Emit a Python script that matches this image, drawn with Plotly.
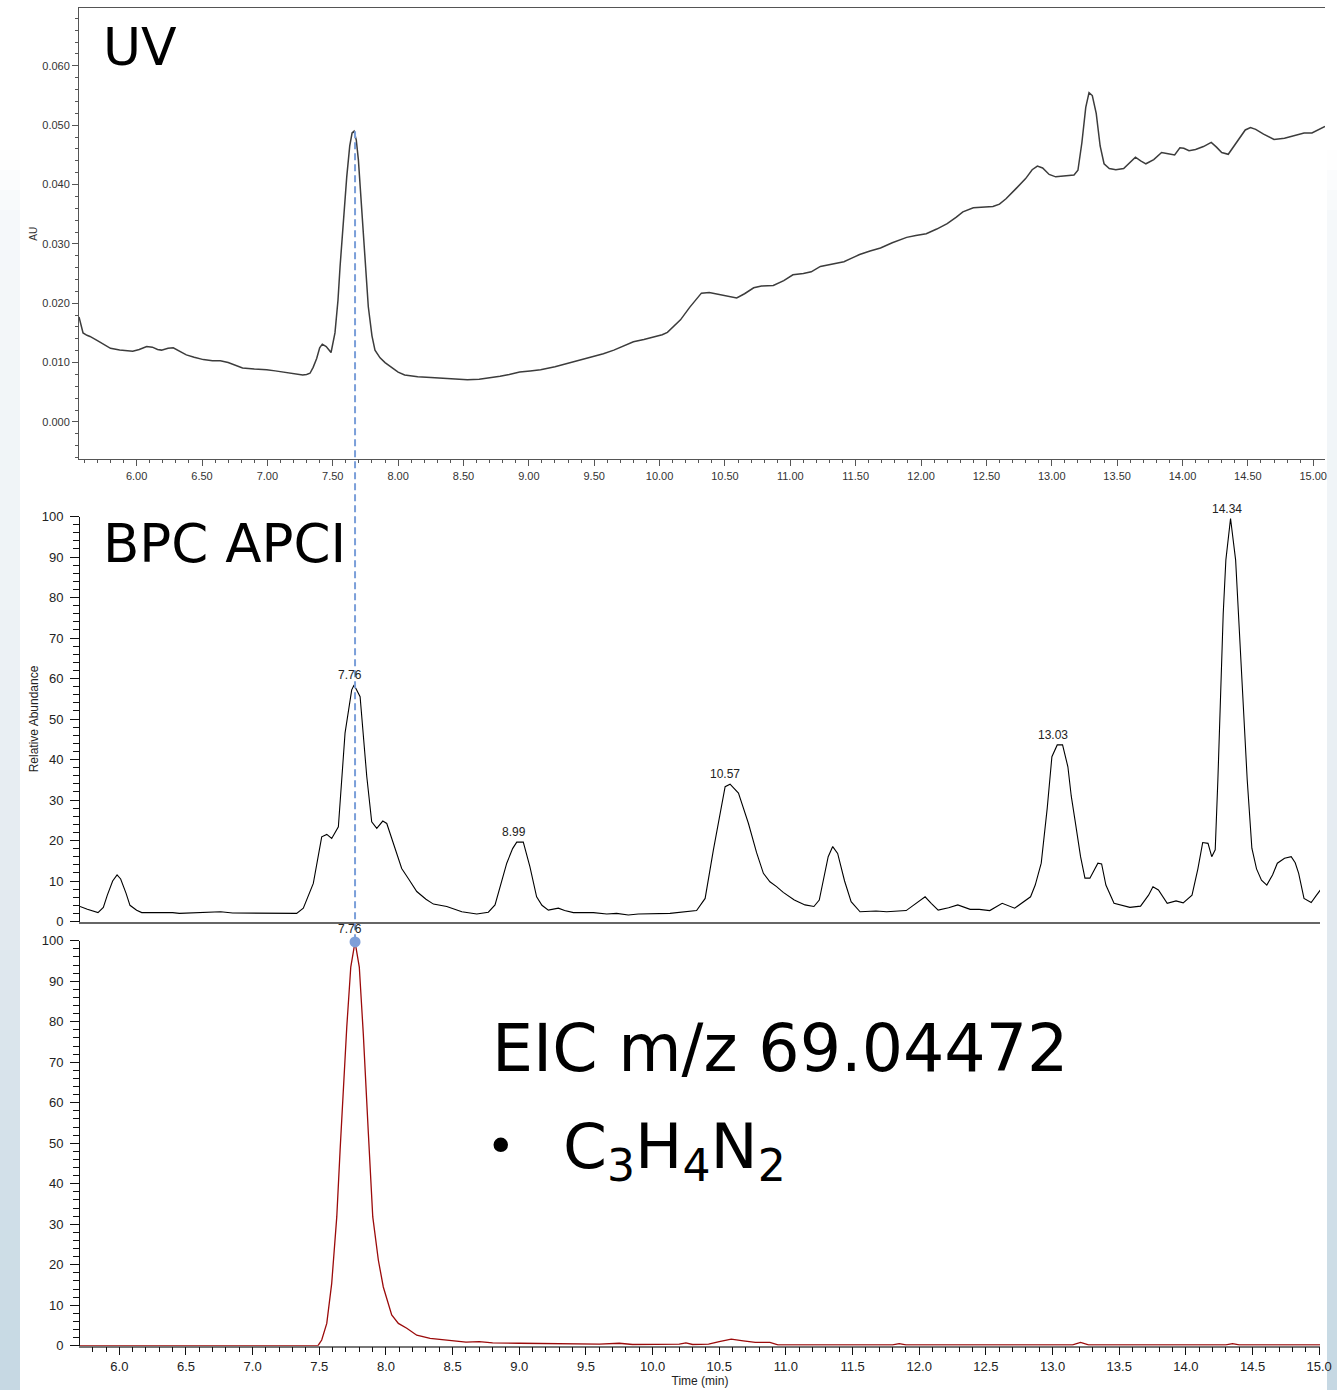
import plotly.graph_objects as go

# ---------------- data ----------------
uv_time = [5.559, 5.575, 5.59, 5.62, 5.643, 5.70, 5.75, 5.80, 5.87, 5.92, 5.97, 6.02, 6.077, 6.12, 6.16,
           6.19, 6.24, 6.28, 6.32, 6.38, 6.44, 6.51, 6.58, 6.64, 6.70, 6.74, 6.81, 6.90, 6.995, 7.06,
           7.12, 7.20, 7.27, 7.30, 7.326, 7.35, 7.377, 7.40, 7.42, 7.45, 7.487, 7.517, 7.54, 7.556, 7.58,
           7.607, 7.63, 7.648, 7.663, 7.68, 7.696, 7.715, 7.734, 7.752, 7.772, 7.80, 7.823, 7.862, 7.90,
           7.95, 8.00, 8.05, 8.10, 8.15, 8.25, 8.37, 8.45, 8.53, 8.62, 8.70, 8.78, 8.85, 8.93, 9.01,
           9.09, 9.20, 9.30, 9.40, 9.49, 9.57, 9.65, 9.72, 9.80, 9.88, 9.95, 10.02, 10.06, 10.10, 10.16,
           10.23, 10.28, 10.32, 10.38, 10.45, 10.52, 10.59, 10.65, 10.72, 10.78, 10.87, 10.95, 11.02, 11.10,
           11.16, 11.23, 11.32, 11.41, 11.47, 11.53, 11.61, 11.69, 11.78, 11.89, 11.96, 12.04, 12.12, 12.20,
           12.27, 12.32, 12.40, 12.48, 12.55, 12.60, 12.65, 12.73, 12.80, 12.85, 12.89, 12.93, 12.98, 13.03,
           13.10, 13.17, 13.20, 13.23, 13.26, 13.285, 13.31, 13.34, 13.37, 13.40, 13.44, 13.49, 13.55, 13.60,
           13.64, 13.68, 13.72, 13.78, 13.84, 13.89, 13.94, 13.98, 14.01, 14.05, 14.10, 14.16, 14.22, 14.26,
           14.30, 14.35, 14.39, 14.43, 14.48, 14.52, 14.56, 14.62, 14.70, 14.78, 14.85, 14.93, 14.99, 15.04,
           15.09]
uv_au = [0.0177, 0.0160, 0.0150, 0.0146, 0.0144, 0.0137, 0.0130, 0.0124, 0.0121, 0.0120, 0.0119, 0.0122,
         0.0127, 0.0126, 0.0122, 0.0121, 0.0124, 0.0125, 0.0120, 0.0113, 0.0109, 0.0105, 0.0103, 0.0103,
         0.0100, 0.0097, 0.0091, 0.0089, 0.0088, 0.0086, 0.0084, 0.0081, 0.0079, 0.0080, 0.0082, 0.0092,
         0.0107, 0.0125, 0.0131, 0.0127, 0.0117, 0.0150, 0.0205, 0.0262, 0.0340, 0.0413, 0.0465, 0.0487,
         0.0490, 0.0475, 0.0442, 0.0380, 0.0318, 0.0250, 0.0194, 0.0145, 0.0121, 0.0108, 0.0100, 0.0092,
         0.0084, 0.0079, 0.0077, 0.0076, 0.0075, 0.0073, 0.0072, 0.0071, 0.0072, 0.0074, 0.0077, 0.0080,
         0.0084, 0.0086, 0.0088, 0.0093, 0.0099, 0.0104, 0.0110, 0.0115, 0.0121, 0.0128, 0.0135, 0.0139,
         0.0143, 0.0147, 0.0151, 0.0160, 0.0172, 0.0193, 0.0207, 0.0217, 0.0218, 0.0215, 0.0211, 0.0209,
         0.0216, 0.0226, 0.0229, 0.0230, 0.0238, 0.0248, 0.0250, 0.0253, 0.0262, 0.0266, 0.0270, 0.0276,
         0.0282, 0.0288, 0.0293, 0.0302, 0.0311, 0.0314, 0.0317, 0.0325, 0.0334, 0.0345, 0.0354, 0.0361,
         0.0362, 0.0363, 0.0367, 0.0376, 0.0394, 0.0410, 0.0425, 0.0431, 0.0428, 0.0417, 0.0413, 0.0414,
         0.0416, 0.0424, 0.0470, 0.0530, 0.0555, 0.0550, 0.0520, 0.0465, 0.0435, 0.0427, 0.0425, 0.0427,
         0.0437, 0.0446, 0.0440, 0.0435, 0.0442, 0.0454, 0.0452, 0.0450, 0.0462, 0.0461, 0.0457, 0.0459,
         0.0464, 0.0471, 0.0463, 0.0454, 0.0451, 0.0464, 0.0478, 0.0492, 0.0496, 0.0493, 0.0485, 0.0476,
         0.0478, 0.0482, 0.0487, 0.0487, 0.0492, 0.0498]

bpc_time = [5.705, 5.76, 5.84, 5.88, 5.91, 5.95, 5.983, 6.01, 6.05, 6.08, 6.13, 6.168, 6.30, 6.40, 6.45,
            6.52, 6.65, 6.76, 6.85, 7.00, 7.207, 7.33, 7.38, 7.455, 7.518, 7.556, 7.593, 7.643, 7.693,
            7.743, 7.761, 7.806, 7.856, 7.893, 7.931, 7.976, 8.006, 8.06, 8.118, 8.17, 8.231, 8.30, 8.356,
            8.456, 8.569, 8.681, 8.768, 8.818, 8.86, 8.906, 8.95, 8.981, 9.03, 9.08, 9.13, 9.17, 9.218,
            9.293, 9.34, 9.406, 9.556, 9.656, 9.73, 9.818, 9.893, 10.13, 10.33, 10.394, 10.456, 10.50,
            10.544, 10.581, 10.644, 10.719, 10.78, 10.831, 10.88, 10.93, 10.98, 11.063, 11.143, 11.21,
            11.25, 11.317, 11.351, 11.388, 11.44, 11.489, 11.556, 11.676, 11.756, 11.902, 11.98, 12.044,
            12.09, 12.142, 12.22, 12.289, 12.382, 12.45, 12.529, 12.622, 12.716, 12.79, 12.835, 12.87,
            12.915, 12.96, 12.995, 13.035, 13.075, 13.115, 13.14, 13.168, 13.21, 13.243, 13.28, 13.34,
            13.368, 13.40, 13.461, 13.58, 13.66, 13.72, 13.753, 13.794, 13.86, 13.926, 13.98, 14.046,
            14.09, 14.126, 14.166, 14.194, 14.22, 14.24, 14.26, 14.28, 14.30, 14.335, 14.373, 14.40,
            14.42, 14.46, 14.495, 14.53, 14.567, 14.607, 14.65, 14.686, 14.74, 14.79, 14.82, 14.846,
            14.886, 14.94, 14.98, 15.018, 15.03]
bpc_abund = [3.7, 3.0, 2.2, 3.5, 6.5, 10.0, 11.5, 10.5, 7.0, 4.0, 2.8, 2.2, 2.2, 2.2, 2.0,
             2.1, 2.1, 2.4, 2.1, 2.1, 2.0, 2.0, 3.3, 9.4, 20.9, 21.5, 20.5, 23.4, 46.5,
             57.2, 58.4, 55.5, 35.8, 24.6, 23.0, 24.8, 24.2, 19.0, 13.1, 10.5, 7.4, 5.5, 4.3,
             3.7, 2.4, 1.85, 2.3, 4.1, 9.0, 14.4, 18.0, 19.6, 19.6, 13.5, 6.1, 4.0, 2.8,
             3.3, 2.7, 2.2, 2.2, 1.85, 2.0, 1.6, 1.85, 2.0, 2.7, 5.7, 17.7, 26.0,
             33.3, 33.9, 31.7, 24.2, 17.0, 11.9, 9.8, 8.6, 7.2, 5.3, 4.1, 3.7,
             5.3, 16.0, 18.5, 16.8, 10.0, 4.9, 2.4, 2.6, 2.4, 2.7, 4.5, 6.1,
             4.5, 2.8, 3.4, 4.1, 3.0, 3.0, 2.7, 4.5, 3.3, 5.0, 6.1, 9.0,
             14.4, 28.0, 40.7, 43.6, 43.6, 38.2, 31.0, 25.1, 16.0, 10.7, 10.7, 14.4,
             14.2, 9.0, 4.5, 3.5, 3.8, 6.5, 8.6, 7.8, 4.5, 5.1, 4.6, 6.5,
             13.0, 19.5, 19.3, 16.0, 17.7, 35.0, 57.2, 76.0, 89.3, 99.5, 89.3, 72.0,
             57.2, 35.0, 18.1, 13.0, 10.2, 9.0, 11.5, 14.4, 15.6, 16.0, 14.5, 11.9,
             5.7, 4.7, 6.5, 8.2, 7.8]

eic_time = [5.705, 7.49, 7.518, 7.556, 7.593, 7.631, 7.656, 7.68, 7.706, 7.736, 7.768, 7.80, 7.83,
            7.868, 7.901, 7.943, 7.98, 8.043, 8.093, 8.156, 8.231, 8.331, 8.481, 8.60, 8.70, 8.80,
            9.00, 9.30, 9.60, 9.75, 9.85, 10.20, 10.25, 10.30, 10.42, 10.50, 10.59, 10.68, 10.77,
            10.88, 10.94, 11.80, 11.85, 11.90, 13.15, 13.21, 13.27, 14.30, 14.35, 14.40, 15.01]
eic_abund = [0.0, 0.0, 1.4, 5.5, 15.4, 31.8, 48.3, 64.7, 78.7, 93.5, 99.7, 93.5, 77.0,
             52.4, 31.8, 21.1, 14.5, 7.6, 5.5, 4.3, 2.6, 1.8, 1.4, 0.9, 1.0, 0.7,
             0.6, 0.5, 0.4, 0.6, 0.3, 0.4, 0.7, 0.3, 0.4, 1.0, 1.6, 1.2, 0.8,
             0.8, 0.2, 0.2, 0.5, 0.2, 0.2, 0.8, 0.2, 0.2, 0.5, 0.2, 0.2]

bpc_peak_labels = ["7.76", "8.99", "10.57", "13.03", "14.34"]
bpc_peak_heights = [58.4, 19.6, 33.9, 43.6, 99.5]
eic_peak_label = "7.76"
eic_peak_time = 7.768
eic_peak_height = 99.7
uv_peak_value = 0.0490

# ---------------- layout geometry ----------------
W, H = 1337, 1390


def px(p):
    return p / W


def py(p):
    return 1 - p / H


uv_xdom = [px(79), px(1325)]
uv_ydom = [py(459.3), py(8.3)]
uv_xrange = [5.559, 15.09]
uv_yrange = [-0.0063, 0.0697]

ms_xdom = [px(80), px(1320)]
ms_xrange = [5.705, 15.006]
bpc_ydom = [py(921.5), py(516.5)]
eic_ydom = [py(1345.7), py(940.7)]

TICKFONT = "Liberation Sans, Arial, sans-serif"
BIGFONT = "DejaVu Sans, sans-serif"

fig = go.Figure()

fig.add_trace(go.Scatter(x=uv_time, y=uv_au, mode="lines", xaxis="x", yaxis="y",
                         line=dict(color="#3c3c3c", width=1.5), hoverinfo="skip"))
fig.add_trace(go.Scatter(x=bpc_time, y=bpc_abund, mode="lines", xaxis="x2", yaxis="y2",
                         line=dict(color="#000000", width=1.1), hoverinfo="skip"))
fig.add_trace(go.Scatter(x=eic_time, y=eic_abund, mode="lines", xaxis="x3", yaxis="y3",
                         line=dict(color="#9b0a0a", width=1.3), hoverinfo="skip"))
fig.add_trace(go.Scatter(x=[eic_peak_time], y=[eic_peak_height], mode="markers", xaxis="x3", yaxis="y3",
                         marker=dict(color="#7f9fd8", size=11), cliponaxis=False, hoverinfo="skip"))

common_ms_y = dict(range=[0, 100], showline=True, linecolor="#111", linewidth=1,
                   ticks="outside", ticklen=9, tickwidth=1, tickcolor="#111", dtick=10, tick0=0,
                   tickfont=dict(family=TICKFONT, size=13, color="#222"),
                   minor=dict(dtick=2, tick0=0, ticks="outside", ticklen=6, tickcolor="#111", tickwidth=1),
                   showgrid=False, zeroline=False, ticklabelstandoff=4, automargin=False)

fig.update_layout(
    width=W, height=H, margin=dict(l=0, r=0, t=0, b=0, pad=0, autoexpand=False),
    paper_bgcolor="white", plot_bgcolor="white", showlegend=False,
    font=dict(family=TICKFONT, color="#222"),
    xaxis=dict(domain=uv_xdom, range=uv_xrange, anchor="y", showline=True, linecolor="#555",
               linewidth=1, mirror=True, ticks="outside", ticklen=6, tickcolor="#555",
               dtick=0.5, tick0=0, tickformat=".2f",
               tickfont=dict(family=TICKFONT, size=11, color="#333"),
               minor=dict(dtick=0.1, tick0=0, ticks="outside", ticklen=3, tickcolor="#555"),
               showgrid=False, zeroline=False, automargin=False),
    yaxis=dict(domain=uv_ydom, range=uv_yrange, anchor="x", showline=True, linecolor="#555",
               linewidth=1, ticks="outside", ticklen=6, tickcolor="#555",
               dtick=0.01, tick0=0, tickformat=".3f",
               tickfont=dict(family=TICKFONT, size=11, color="#333"),
               minor=dict(dtick=0.002, tick0=0, ticks="outside", ticklen=3, tickcolor="#555"),
               showgrid=False, zeroline=False, automargin=False,
               title=dict(text="AU", font=dict(family=TICKFONT, size=10, color="#333"), standoff=2)),
    xaxis2=dict(domain=ms_xdom, range=ms_xrange, anchor="y2", showline=True, linecolor="#666",
                linewidth=1.5, ticks="", showticklabels=False, showgrid=False, zeroline=False,
                automargin=False),
    yaxis2=dict(domain=bpc_ydom, anchor="x2",
                title=dict(text="Relative Abundance", font=dict(family=TICKFONT, size=12, color="#222"),
                           standoff=0),
                **common_ms_y),
    xaxis3=dict(domain=ms_xdom, range=ms_xrange, anchor="y3", showline=True, linecolor="#777",
                linewidth=1.5, ticks="outside", ticklen=8, tickcolor="#111", tickwidth=1,
                dtick=0.5, tick0=0, tickformat=".1f",
                tickfont=dict(family=TICKFONT, size=13, color="#222"),
                minor=dict(dtick=0.1, tick0=0, ticks="outside", ticklen=5, tickcolor="#111", tickwidth=1),
                showgrid=False, zeroline=False, automargin=False,
                title=dict(text="Time (min)", font=dict(family=TICKFONT, size=12, color="#222"), standoff=4)),
    yaxis3=dict(domain=eic_ydom, anchor="x3", **common_ms_y),
)


def to_paper(v, dom, rng):
    return dom[0] + (v - rng[0]) / (rng[1] - rng[0]) * (dom[1] - dom[0])


shapes = []
# background gradient strips of the slide
stops = [(150, (255, 255, 255)), (220, (245, 248, 250)), (590, (238, 243, 246)),
         (900, (227, 234, 240)), (1390, (197, 216, 227))]


def color_at(y):
    for (y0, c0), (y1, c1) in zip(stops[:-1], stops[1:]):
        if y0 <= y <= y1:
            f = (y - y0) / (y1 - y0)
            return "rgb(%d,%d,%d)" % tuple(round(a + (b - a) * f) for a, b in zip(c0, c1))
    return "rgb(255,255,255)"


band = 20
for yb in range(150, 1390, band):
    col = color_at(yb + band / 2)
    for xa, xb in ((0, 20), (1327, 1337)):
        shapes.append(dict(type="rect", xref="paper", yref="paper", x0=px(xa), x1=px(xb),
                           y0=py(yb + band), y1=py(yb), fillcolor=col, line=dict(width=0),
                           layer="below"))

# dashed connector from UV apex to EIC apex
shapes.append(dict(type="line", xref="x3", yref="paper", x0=eic_peak_time, x1=eic_peak_time,
                   y0=to_paper(uv_peak_value, uv_ydom, uv_yrange),
                   y1=to_paper(eic_peak_height, eic_ydom, [0, 100]),
                   line=dict(color="#7b9fd9", width=2, dash="7px,4px"), layer="above"))
fig.update_layout(shapes=shapes)

annotations = []
for lab, h in zip(bpc_peak_labels, bpc_peak_heights):
    annotations.append(dict(xref="x2", yref="y2", x=float(lab), y=h, text=lab, showarrow=False,
                            yanchor="bottom", xshift=-4, yshift=1,
                            font=dict(family=TICKFONT, size=12, color="#222")))
annotations.append(dict(xref="x3", yref="y3", x=float(eic_peak_label), y=eic_peak_height,
                        text=eic_peak_label, showarrow=False, yanchor="bottom", xshift=-4, yshift=4,
                        font=dict(family=TICKFONT, size=12, color="#222")))

annotations += [
    dict(xref="paper", yref="paper", x=px(101), y=py(47), text="UV", showarrow=False,
         xanchor="left", yanchor="middle", font=dict(family=BIGFONT, size=52, color="#000")),
    dict(xref="paper", yref="paper", x=px(101), y=py(543), text="BPC APCI", showarrow=False,
         xanchor="left", yanchor="middle", font=dict(family=BIGFONT, size=53, color="#000")),
    dict(xref="paper", yref="paper", x=px(490), y=py(1048), text="EIC m/z 69.04472",
         showarrow=False, xanchor="left", yanchor="middle",
         font=dict(family=BIGFONT, size=65, color="#000")),
    dict(xref="paper", yref="paper", x=px(484), y=py(1146), text="•", showarrow=False,
         xanchor="left", yanchor="middle", font=dict(family=BIGFONT, size=50, color="#000")),
    dict(xref="paper", yref="paper", x=px(561), y=py(1150),
         text="C<sub>3</sub>H<sub>4</sub>N<sub>2</sub>", showarrow=False,
         xanchor="left", yanchor="middle", font=dict(family=BIGFONT, size=63, color="#000")),
]
fig.update_layout(annotations=annotations)

fig.write_html("out.html")
